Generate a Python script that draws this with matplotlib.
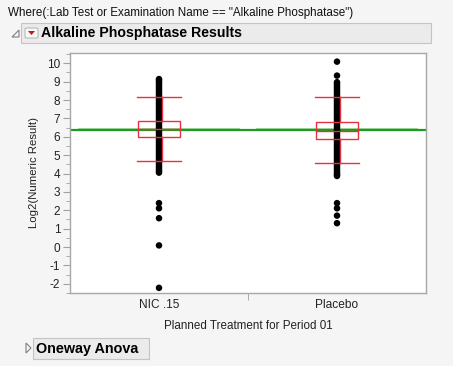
import matplotlib
matplotlib.use('Agg')
import matplotlib.pyplot as plt
from matplotlib.patches import Rectangle, Polygon, FancyBboxPatch

# groups on the x axis
groups = ['NIC .15', 'Placebo']

# points (log2 values)
nic_vals = [9.14, 9.08, 9.0, 8.9, 8.8, 8.7, 8.6, 8.5, 8.4, 8.3, 8.2, 8.1, 8.0,
            7.9, 7.8, 7.7, 7.6, 7.5, 7.4, 7.3, 7.2, 7.1, 7.0, 6.9, 6.8, 6.7,
            6.6, 6.5, 6.4, 6.3, 6.2, 6.1, 6.0, 5.9, 5.8, 5.7, 5.6, 5.5, 5.4,
            5.3, 5.2, 5.1, 5.0, 4.9, 4.8, 4.7, 4.6, 4.5, 4.4, 4.3, 4.2, 4.12,
            4.05, 2.39, 2.11, 1.57, 0.09, -2.22]
placebo_vals = [10.09, 9.33, 8.97, 8.9, 8.8, 8.7, 8.6, 8.5, 8.4, 8.3, 8.2, 8.1,
                8.0, 7.9, 7.8, 7.7, 7.6, 7.5, 7.4, 7.3, 7.2, 7.1, 7.0, 6.9,
                6.8, 6.7, 6.6, 6.5, 6.4, 6.3, 6.2, 6.1, 6.0, 5.9, 5.8, 5.7,
                5.6, 5.5, 5.4, 5.3, 5.2, 5.1, 5.0, 4.9, 4.8, 4.7, 4.6, 4.5,
                4.4, 4.3, 4.2, 4.1, 4.0, 3.93, 3.87, 2.39, 2.11, 1.71, 1.30]

# box plot summaries: low whisker, q1, median, q3, high whisker
box_low = [4.70, 4.59]
box_q1 = [6.00, 5.89]
box_med = [6.40, 6.34]
box_q3 = [6.88, 6.81]
box_high = [8.16, 8.16]

group_means = [6.42, 6.42]
grand_mean = 6.38

W, H = 453, 366
bg = '#f5f5f5'
red = '#e8303f'

plt.rcParams['font.family'] = ['Liberation Sans', 'DejaVu Sans']
plt.rcParams['axes.unicode_minus'] = False
fig = plt.figure(figsize=(W / 100, H / 100), dpi=100, facecolor=bg)


def fx(px):
    return px / W


def fy(py):
    return 1 - py / H


# header texts and boxes
fig.text(fx(8), fy(13), 'Where(:Lab Test or Examination Name == "Alkaline Phosphatase")',
         fontsize=8.4, va='center', ha='left', color='#111111')

fig.patches.append(Rectangle((fx(21), fy(43)), fx(410), 20 / H, transform=fig.transFigure,
                             facecolor='#ebebeb', edgecolor='#c4c4c4', lw=0.8))
fig.patches.append(Polygon([[fx(12), fy(37)], [fx(19), fy(37)], [fx(19), fy(30)]],
                           closed=True, transform=fig.transFigure, facecolor='none',
                           edgecolor='#808080', lw=0.8))
fig.patches.append(FancyBboxPatch((fx(25), fy(38)), fx(13), 10 / H, transform=fig.transFigure,
                                  boxstyle='round,pad=0,rounding_size=0.004',
                                  facecolor='#f8f8f8', edgecolor='#b0b0b0', lw=0.7))
fig.patches.append(Polygon([[fx(28), fy(31)], [fx(35), fy(31)], [fx(31.5), fy(35)]],
                           closed=True, transform=fig.transFigure, facecolor='#d0101a',
                           edgecolor='none'))
fig.text(fx(41), fy(33.5), 'Alkaline Phosphatase Results', fontsize=10.2, fontweight='bold',
         va='center', ha='left', color='black')

# footer outline
fig.patches.append(Rectangle((fx(33), fy(359)), fx(116), 21 / H, transform=fig.transFigure,
                             facecolor='#ebebeb', edgecolor='#c4c4c4', lw=0.8))
fig.patches.append(Polygon([[fx(26), fy(343)], [fx(26), fy(353)], [fx(31), fy(348)]],
                           closed=True, transform=fig.transFigure, facecolor='none',
                           edgecolor='#808080', lw=0.8))
fig.text(fx(36), fy(348.5), 'Oneway Anova', fontsize=10.4, fontweight='bold',
         va='center', ha='left', color='black')

# main plot
ax = fig.add_axes([fx(70), fy(293), fx(356), (293 - 53) / H])
ax.set_facecolor('white')
for s in ax.spines.values():
    s.set_color('#a8a8a8')
    s.set_linewidth(1.0)

ax.set_xlim(-0.5, 1.5)
ax.set_ylim(-2.42, 10.56)

# mean lines
ax.axhline(grand_mean, color='#1e9a1e', lw=1.6, zorder=2)
for i, m in enumerate(group_means):
    ax.plot([i - 0.45, i + 0.45], [m, m], color='#8fd08f', lw=1.4, alpha=0.8, zorder=1)

# points
for i, vals in enumerate([nic_vals, placebo_vals]):
    ax.scatter([i] * len(vals), vals, s=22, color='black', edgecolors='none', zorder=3)

# boxes
bw = 0.24
for i in range(len(groups)):
    ax.add_patch(Rectangle((i - bw / 2, box_q1[i]), bw, box_q3[i] - box_q1[i],
                           facecolor='none', edgecolor=red, lw=1.0, zorder=4))
    ax.plot([i - bw / 2, i + bw / 2], [box_med[i], box_med[i]], color=red, lw=1.0, zorder=4)
    ax.plot([i + 0.015, i + 0.015], [box_low[i], box_q1[i]], color=red, lw=1.0, zorder=4)
    ax.plot([i + 0.015, i + 0.015], [box_q3[i], box_high[i]], color=red, lw=1.0, zorder=4)
    ax.plot([i - bw / 2 - 0.005, i + bw / 2 + 0.005], [box_low[i], box_low[i]], color=red, lw=1.0, zorder=4)
    ax.plot([i - bw / 2 - 0.005, i + bw / 2 + 0.005], [box_high[i], box_high[i]], color=red, lw=1.0, zorder=4)

ax.set_yticks(range(-2, 11))
ax.set_yticks([v + 0.5 for v in range(-3, 11)], minor=True)
ax.set_xticks([0, 1])
ax.set_xticklabels(groups)
ax.set_xticks([0.5], minor=True)
ax.tick_params(axis='y', which='major', length=5, color='#a0a0a0', labelsize=8.5, pad=2,
               labelcolor='#222222')
ax.tick_params(axis='y', which='minor', length=3, color='#a0a0a0')
ax.tick_params(axis='x', which='major', length=0, labelsize=8.6, pad=4, labelcolor='#222222')
ax.tick_params(axis='x', which='minor', length=5, color='#a0a0a0')

ax.set_ylabel('Log2(Numeric Result)', fontsize=8.2, color='#222222', labelpad=6)
ax.set_xlabel('Planned Treatment for Period 01', fontsize=8.4, color='#222222', labelpad=7)

fig.savefig('out.png', dpi=100, facecolor=bg)
